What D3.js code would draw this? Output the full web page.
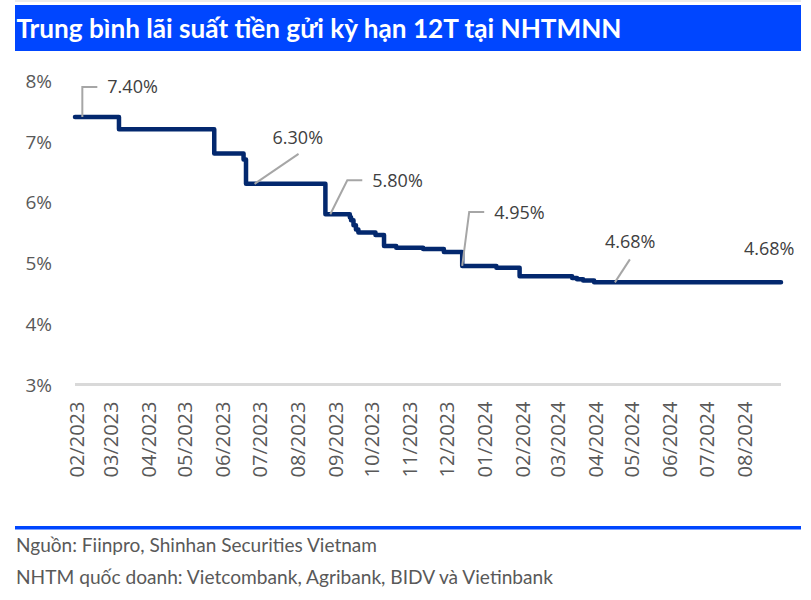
<!DOCTYPE html>
<html>
<head>
<meta charset="utf-8">
<script src="https://cdn.jsdelivr.net/npm/d3@7"></script>
<style>
  html, body { margin: 0; padding: 0; background: #fff; }
  svg { display: block; }
</style>
</head>
<body>
<svg id="chart" width="811" height="600"></svg>
<script>
// ---------------- DATA ----------------
const titleText = "Trung bình lãi suất tiền gửi kỳ hạn 12T tại NHTMNN";
const sourceLines = [
  "Nguồn: Fiinpro, Shinhan Securities Vietnam",
  "NHTM quốc doanh: Vietcombank, Agribank, BIDV và Vietinbank"
];
// change points of the average 12-month deposit rate (%)
const dates = [
  "2023-02-01", "2023-03-09", "2023-05-26", "2023-06-19", "2023-06-21",
  "2023-08-25", "2023-09-14", "2023-09-15", "2023-09-17", "2023-09-19",
  "2023-09-21", "2023-10-05", "2023-10-12", "2023-10-22", "2023-11-13",
  "2023-11-30", "2023-12-15", "2024-01-12", "2024-01-31", "2024-03-14",
  "2024-03-18", "2024-03-23", "2024-04-01", "2024-09-01"
];
const rates = [
  7.40, 7.20, 6.80, 6.70, 6.30,
  5.80, 5.75, 5.70, 5.62, 5.55,
  5.50, 5.46, 5.28, 5.25, 5.23,
  5.18, 4.95, 4.92, 4.78, 4.75,
  4.73, 4.71, 4.68, 4.68
];
const yTicks = [3, 4, 5, 6, 7, 8];
const xTickDates = [
  "2023-02-01", "2023-03-01", "2023-04-01", "2023-05-01", "2023-06-01",
  "2023-07-01", "2023-08-01", "2023-09-01", "2023-10-01", "2023-11-01",
  "2023-12-01", "2024-01-01", "2024-02-01", "2024-03-01", "2024-04-01",
  "2024-05-01", "2024-06-01", "2024-07-01", "2024-08-01"
];
// callouts: anchored on the series
const calloutDates  = ["2023-02-07", "2023-06-28", "2023-08-29", "2023-12-15", "2024-04-18", "2024-09-01"];
const calloutValues = [7.40, 6.30, 5.80, 4.95, 4.68, 4.68];
const calloutLabels = ["7.40%", "6.30%", "5.80%", "4.95%", "4.68%", "4.68%"];

// ---------------- LAYOUT ----------------
const parse = d3.timeParse("%Y-%m-%d");
const fmtTick = d3.timeFormat("%m/%Y");
const svg = d3.select("#chart");

const plot = { left: 75, right: 781, top: 80.5, bottom: 384.5 };
const x = d3.scaleTime()
  .domain([parse("2023-02-01"), parse("2024-09-01")])
  .range([plot.left, plot.right]);
const y = d3.scaleLinear().domain([3, 8]).range([plot.bottom, plot.top]);

const BLUE = "#0046ff";
const NAVY = "#03286e";
const GRAY_LINE = "#a6a6a6";

// top strip + title bar
svg.append("rect").attr("x", 15).attr("y", 0).attr("width", 786).attr("height", 2).attr("fill", "#ececec");
svg.append("rect").attr("x", 15).attr("y", 5).attr("width", 786).attr("height", 46).attr("fill", BLUE);
svg.append("text")
  .attr("x", 16.5).attr("y", 37.5)
  .attr("font-family", "Lato, 'Open Sans', sans-serif")
  .attr("font-weight", 700)
  .attr("font-size", 26)
  .attr("fill", "#fff")
  .attr("textLength", 605).attr("lengthAdjust", "spacingAndGlyphs")
  .text(titleText);

// y axis (labels only)
const yAxis = d3.axisLeft(y).tickValues(yTicks).tickFormat(d => d + "%").tickSize(0).tickPadding(0);
const gy = svg.append("g").attr("transform", "translate(52,0)").call(yAxis);
gy.select(".domain").remove();
gy.selectAll("text")
  .attr("font-family", "'Open Sans', sans-serif")
  .attr("font-size", 19)
  .attr("fill", "#595959")
  .attr("dy", "0.36em");

// baseline at 3%
svg.append("line")
  .attr("x1", plot.left).attr("x2", plot.right)
  .attr("y1", y(3)).attr("y2", y(3))
  .attr("stroke", "#d9d9d9").attr("stroke-width", 3);

// x axis (rotated labels)
const xAxis = d3.axisBottom(x).tickValues(xTickDates.map(parse)).tickFormat(fmtTick).tickSize(0).tickPadding(0);
const gx = svg.append("g").attr("transform", `translate(0,${y(3)})`).call(xAxis);
gx.select(".domain").remove();
gx.selectAll("text")
  .attr("font-family", "'Open Sans', sans-serif")
  .attr("font-size", 20)
  .attr("fill", "#595959")
  .attr("text-anchor", "end")
  .attr("transform", "rotate(-90)")
  .attr("x", -17)
  .attr("y", 1)
  .attr("dy", "0.36em");

// series line
const series = dates.map((d, i) => ({ date: parse(d), value: rates[i] }));
const line = d3.line().x(d => x(d.date)).y(d => y(d.value)).curve(d3.curveStepAfter);
svg.append("path")
  .datum(series)
  .attr("d", line)
  .attr("fill", "none")
  .attr("stroke", NAVY)
  .attr("stroke-width", 4.5)
  .attr("stroke-linejoin", "round")
  .attr("stroke-linecap", "round");

// callouts: leader path offsets (px) and label offsets relative to anchor
const calloutLayout = [
  { path: [[0, 0], [0, -30], [15, -30]], label: [25, -30] },
  { path: [[0, 0], [44, -30]], label: [18, -46] },
  { path: [[0, 0], [17, -34], [32, -34]], label: [42, -34] },
  { path: [[0, 0], [7, -54], [22, -54]], label: [32, -53] },
  { path: [[0, 0], [15, -23]], label: [-10, -40.5] },
  { path: null, label: [-37, -34] }
];
calloutLabels.forEach((lab, i) => {
  const ax = x(parse(calloutDates[i]));
  const ay = y(calloutValues[i]);
  const lay = calloutLayout[i];
  if (lay.path) {
    svg.append("path")
      .attr("d", d3.line()(lay.path.map(p => [ax + p[0], ay + p[1]])))
      .attr("fill", "none")
      .attr("stroke", GRAY_LINE)
      .attr("stroke-width", 2);
  }
  svg.append("text")
    .attr("x", ax + lay.label[0])
    .attr("y", ay + lay.label[1])
    .attr("dy", "0.36em")
    .attr("font-family", "'Open Sans', sans-serif")
    .attr("font-size", 18)
    .attr("fill", "#404040")
    .text(lab);
});

// footer
svg.append("rect").attr("x", 15).attr("y", 526).attr("width", 786).attr("height", 3.5).attr("fill", BLUE);
const footLengths = [361, 537];
sourceLines.forEach((t, i) => {
  svg.append("text")
    .attr("x", 16).attr("y", 552 + i * 31.5)
    .attr("font-family", "Lato, sans-serif")
    .attr("font-size", 18.5)
    .attr("fill", "#595959")
    .attr("textLength", footLengths[i]).attr("lengthAdjust", "spacingAndGlyphs")
    .text(t);
});
</script>
</body>
</html>
